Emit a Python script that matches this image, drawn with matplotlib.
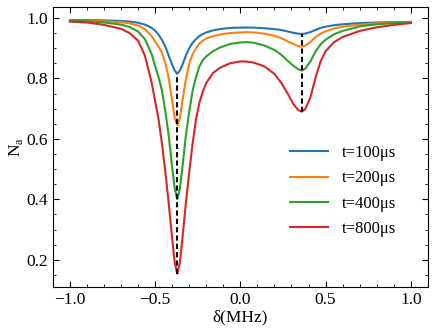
import numpy as np
import matplotlib
matplotlib.use("Agg")
import matplotlib.pyplot as plt
from matplotlib.ticker import MultipleLocator

plt.rcParams['font.family'] = 'serif'
plt.rcParams['font.serif'] = ['Liberation Serif', 'DejaVu Serif']
plt.rcParams['mathtext.fontset'] = 'custom'
plt.rcParams['mathtext.rm'] = 'Liberation Serif'

# detuning grid (MHz) and N_a
delta = [-1.0, -0.9, -0.8, -0.7, -0.65, -0.6, -0.56, -0.52, -0.5, -0.48,
         -0.46, -0.44, -0.42, -0.40, -0.385, -0.37, -0.355, -0.34, -0.32, -0.30,
         -0.28, -0.26, -0.24, -0.22, -0.2, -0.16, -0.12, -0.06, 0.0, 0.03,
         0.08, 0.14, 0.2, 0.24, 0.28, 0.31, 0.34, 0.36, 0.38, 0.41,
         0.44, 0.47, 0.5, 0.55, 0.6, 0.7, 0.8, 0.9, 1.0]

n_100 = [0.993, 0.993, 0.992, 0.990, 0.988, 0.984, 0.978, 0.967, 0.958, 0.945,
         0.927, 0.905, 0.875, 0.845, 0.826, 0.815, 0.826, 0.845, 0.875, 0.900,
         0.918, 0.930, 0.940, 0.947, 0.952, 0.959, 0.963, 0.967, 0.968, 0.968,
         0.968, 0.966, 0.963, 0.960, 0.955, 0.951, 0.948, 0.947, 0.948, 0.953,
         0.960, 0.967, 0.971, 0.976, 0.979, 0.983, 0.985, 0.986, 0.987]

n_200 = [0.992, 0.991, 0.989, 0.986, 0.982, 0.975, 0.963, 0.940, 0.922, 0.905,
         0.885, 0.850, 0.800, 0.725, 0.668, 0.645, 0.668, 0.725, 0.795, 0.850,
         0.880, 0.900, 0.915, 0.925, 0.932, 0.940, 0.945, 0.950, 0.952, 0.953,
         0.952, 0.948, 0.941, 0.933, 0.922, 0.914, 0.907, 0.905, 0.908, 0.920,
         0.936, 0.948, 0.956, 0.965, 0.971, 0.978, 0.982, 0.984, 0.986]

n_400 = [0.991, 0.989, 0.985, 0.978, 0.970, 0.955, 0.930, 0.880, 0.840, 0.805,
         0.760, 0.690, 0.610, 0.505, 0.435, 0.400, 0.435, 0.505, 0.610, 0.690,
         0.760, 0.805, 0.840, 0.860, 0.873, 0.890, 0.902, 0.914, 0.919, 0.920,
         0.918, 0.909, 0.894, 0.878, 0.857, 0.842, 0.830, 0.826, 0.832, 0.855,
         0.888, 0.912, 0.928, 0.946, 0.957, 0.972, 0.979, 0.983, 0.985]

n_800 = [0.988, 0.985, 0.977, 0.964, 0.950, 0.925, 0.875, 0.785, 0.725, 0.665,
         0.585, 0.490, 0.385, 0.270, 0.190, 0.154, 0.190, 0.270, 0.385, 0.490,
         0.585, 0.665, 0.720, 0.757, 0.785, 0.818, 0.835, 0.850, 0.856, 0.856,
         0.852, 0.840, 0.815, 0.785, 0.748, 0.716, 0.695, 0.690, 0.698, 0.735,
         0.800, 0.855, 0.890, 0.920, 0.937, 0.957, 0.969, 0.977, 0.983]

labels = ['t=100μs', 't=200μs', 't=400μs', 't=800μs']
colors = ['#1f77b4', '#ff7f0e', '#2ca02c', '#d62728']
dip_idx = [delta.index(-0.37), delta.index(0.36)]

fig = plt.figure(figsize=(4.37, 3.36), dpi=100)
ax = fig.add_axes([0.121, 0.146, 0.858, 0.833])

for y, lab, c in zip([n_100, n_200, n_400, n_800], labels, colors):
    ax.plot(delta, y, color=c, lw=1.5, label=lab)

# dashed markers through the dip minima
for i in dip_idx:
    ax.plot([delta[i], delta[i]], [n_800[i], n_100[i]], color='black',
            lw=1.5, ls=(0, (2.5, 1.5)), zorder=3)

ax.set_xlim(-1.1, 1.1)
ax.set_ylim(0.11, 1.036)
ax.xaxis.set_major_locator(MultipleLocator(0.5))
ax.xaxis.set_minor_locator(MultipleLocator(0.1))
ax.yaxis.set_major_locator(MultipleLocator(0.2))
ax.yaxis.set_minor_locator(MultipleLocator(0.05))
ax.tick_params(which='both', direction='in', top=True, right=True, labelsize=12.5)
ax.tick_params(which='major', length=4)
ax.tick_params(which='minor', length=2)

ax.set_xlabel('δ(MHz)', fontsize=12.5, labelpad=1)
ax.set_ylabel(r'N$_\mathregular{a}$', fontsize=12.5, labelpad=1)

ax.legend(loc='center left', bbox_to_anchor=(0.615, 0.343), frameon=False,
          fontsize=12, handlelength=2.3, handletextpad=0.8, labelspacing=0.55,
          borderaxespad=0)

fig.savefig('out.png', dpi=100)
